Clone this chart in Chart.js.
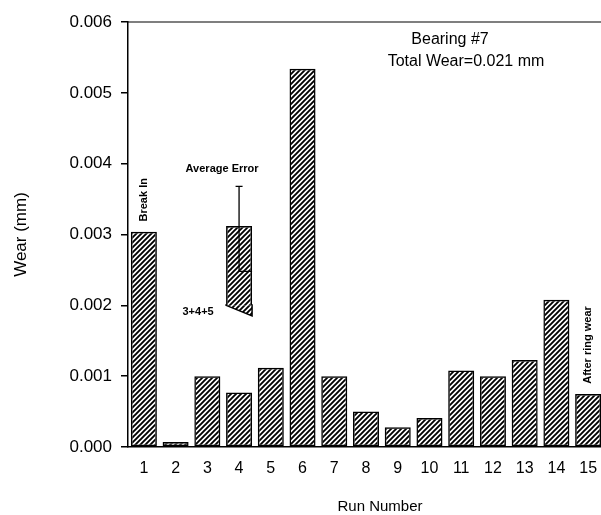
<!DOCTYPE html>
<html>
<head>
<meta charset="utf-8">
<script src="https://cdn.jsdelivr.net/npm/chart.js@4.4.1/dist/chart.umd.min.js"></script>
<style>
    html, body { margin: 0; padding: 0; background: #fff; overflow: hidden; }
    /* the scanned plot runs a few pixels past the right edge of the picture */
    #wrap { width: 604px; height: 515px; position: relative; }
</style>
</head>
<body>
<div id="wrap"><canvas id="wearChart"></canvas></div>
<script>
// --- Data ---
const runNumbers = ['1', '2', '3', '4', '5', '6', '7', '8', '9', '10', '11', '12', '13', '14', '15'];
const wearMm = [0.00304, 0.00007, 0.00100, 0.00077, 0.00112, 0.00534, 0.00100, 0.00050,
                0.00028, 0.00041, 0.00108, 0.00100, 0.00123, 0.00208, 0.00075];
// combined runs 3+4+5 floating bar (drawn at run 4), slanted bottom
const comboIndex = 3;
const comboRange = [0.00200, 0.00312];
const comboSlantLow = 0.00185;
// average error whisker
const errorRange = [0.00248, 0.00368];
const yTicks = [0, 0.001, 0.002, 0.003, 0.004, 0.005, 0.006];

const FONT = '"Liberation Sans", Arial, Helvetica, sans-serif';

// --- Hatch fill ---
function makeHatch() {
    const s = 5;
    const c = document.createElement('canvas');
    c.width = s; c.height = s;
    const g = c.getContext('2d');
    g.strokeStyle = '#000';
    g.lineWidth = 1.9;
    g.beginPath();
    g.moveTo(0, s); g.lineTo(s, 0);
    g.moveTo(-1, 1); g.lineTo(1, -1);
    g.moveTo(s - 1, s + 1); g.lineTo(s + 1, s - 1);
    g.stroke();
    return g.createPattern(c, 'repeat');
}
const hatch = makeHatch();

const comboData = runNumbers.map((_, i) => i === comboIndex ? comboRange : null);

// --- Annotations, frame line, error bar ---
const extrasPlugin = {
    id: 'extras',
    afterDatasetsDraw(chart) {
        const { ctx, chartArea, scales: { x, y } } = chart;
        ctx.save();

        // top frame line
        ctx.strokeStyle = '#000';
        ctx.lineWidth = 1.2;
        ctx.beginPath();
        ctx.moveTo(chartArea.left, chartArea.top);
        ctx.lineTo(chartArea.right, chartArea.top);
        ctx.stroke();

        // slanted bottom of the 3+4+5 bar
        const bar = chart.getDatasetMeta(1).data[comboIndex];
        const half = bar.width / 2;
        const xl = bar.x - half, xr = bar.x + half;
        const yb = y.getPixelForValue(comboRange[0]);
        const ys = y.getPixelForValue(comboSlantLow);
        ctx.beginPath();
        ctx.moveTo(xl, yb);
        ctx.lineTo(xr, ys);
        ctx.lineTo(xr, yb);
        ctx.closePath();
        ctx.fillStyle = hatch;
        ctx.fill();
        ctx.lineWidth = 1.5;
        ctx.beginPath();
        ctx.moveTo(xl, yb - 1);
        ctx.lineTo(xl, yb);
        ctx.lineTo(xr, ys);
        ctx.lineTo(xr, yb - 1);
        ctx.stroke();

        // average error whisker
        const yTop = y.getPixelForValue(errorRange[1]);
        const yLow = y.getPixelForValue(errorRange[0]);
        ctx.lineWidth = 1.3;
        ctx.beginPath();
        ctx.moveTo(bar.x, yTop);
        ctx.lineTo(bar.x, yLow);
        ctx.moveTo(bar.x - 3.5, yTop);
        ctx.lineTo(bar.x + 3.5, yTop);
        ctx.moveTo(bar.x, yLow);
        ctx.lineTo(xr, yLow);
        ctx.stroke();

        // texts
        ctx.fillStyle = '#000';
        ctx.textAlign = 'center';
        ctx.textBaseline = 'middle';

        ctx.font = '16px ' + FONT;
        ctx.fillText('Bearing #7', 450, 40);
        ctx.fillText('Total Wear=0.021 mm', 466, 62);

        ctx.font = 'bold 11px ' + FONT;
        ctx.fillText('Average Error', x.getPixelForValue(comboIndex) - 17, y.getPixelForValue(0.00392));
        ctx.fillText('3+4+5', x.getPixelForValue(comboIndex) - 41, y.getPixelForValue(0.00191));

        const vertical = (text, px, py, font) => {
            ctx.save();
            ctx.translate(px, py);
            ctx.rotate(-Math.PI / 2);
            ctx.font = font;
            ctx.fillText(text, 0, 0);
            ctx.restore();
        };
        vertical('Break In', x.getPixelForValue(0), y.getPixelForValue(0.00349), 'bold 11px ' + FONT);
        vertical('After ring wear', x.getPixelForValue(14), y.getPixelForValue(0.00144), 'bold 11px ' + FONT);

        ctx.font = '15px ' + FONT;
        ctx.fillText('Run Number', 380, 507);

        ctx.restore();
    }
};

const chartCanvas = document.getElementById('wearChart');
new Chart(chartCanvas.getContext('2d'), {
    type: 'bar',
    data: {
        labels: runNumbers,
        datasets: [
            {
                label: 'Wear',
                data: wearMm,
                backgroundColor: hatch,
                borderColor: '#000',
                borderWidth: 1.5,
                borderSkipped: false,
                barPercentage: 0.82,
                categoryPercentage: 1.0,
                grouped: false
            },
            {
                label: 'Runs 3+4+5',
                data: comboData,
                backgroundColor: hatch,
                borderColor: '#000',
                borderWidth: 1.5,
                borderSkipped: 'bottom',
                barPercentage: 0.82,
                categoryPercentage: 1.0,
                grouped: false
            }
        ]
    },
    options: {
        responsive: true,
        maintainAspectRatio: false,
        animation: false,
        devicePixelRatio: 1,
        layout: { padding: { top: 22, right: 0, left: 0, bottom: 0 } },
        plugins: {
            legend: { display: false },
            tooltip: { enabled: false }
        },
        scales: {
            x: {
                afterFit: (s) => { s.height = 68; },
                grid: { display: true, drawOnChartArea: false, drawTicks: false },
                border: { display: true, color: '#000', width: 1.5 },
                // padding 0 + tall line height keeps Chart.js from shrinking the area on the right
                ticks: { color: '#000', padding: 0, font: { family: FONT, size: 16, lineHeight: 2.75 } }
            },
            y: {
                min: 0,
                max: 0.006,
                afterFit: (s) => { s.width = 128; },
                afterBuildTicks: (s) => { s.ticks = yTicks.map(v => ({ value: v })); },
                grid: { display: true, drawOnChartArea: false, drawTicks: true, tickLength: 7, color: '#000', lineWidth: 1.5 },
                border: { display: true, color: '#000', width: 1.5 },
                ticks: {
                    color: '#000',
                    padding: 9,
                    font: { family: FONT, size: 17 },
                    callback: (v) => Number(v).toFixed(3)
                },
                title: {
                    display: true,
                    text: 'Wear (mm)',
                    color: '#000',
                    padding: { top: 11, bottom: 0 },
                    font: { family: FONT, size: 17 }
                }
            }
        }
    },
    plugins: [extrasPlugin]
});
</script>
</body>
</html>
